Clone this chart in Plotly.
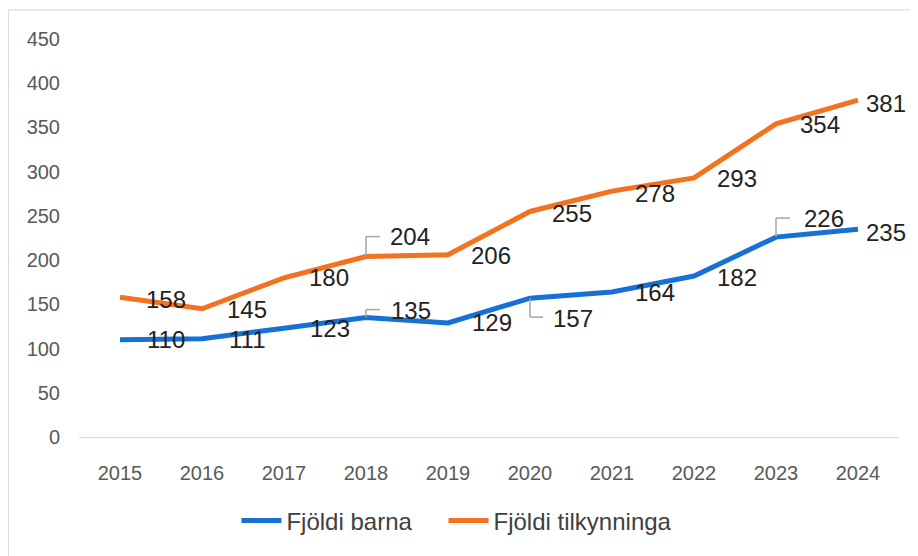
import plotly.graph_objects as go

years = [2015, 2016, 2017, 2018, 2019, 2020, 2021, 2022, 2023, 2024]
barna = [110, 111, 123, 135, 129, 157, 164, 182, 226, 235]
tilkynningar = [158, 145, 180, 204, 206, 255, 278, 293, 354, 381]
y_ticks = [0, 50, 100, 150, 200, 250, 300, 350, 400, 450]
names = ["Fjöldi barna", "Fjöldi tilkynninga"]

BLUE = "#1670D6"
ORANGE = "#F3721F"
FONT = "Liberation Sans"

# label offsets in pixels (dx right, dy up)
barna_off = [(46, 0), (45, -1), (46, 0), (45, 7), (44, 0), (43, -20), (43, -1), (43, -1), (48, 19), (28, -3)]
tilk_off = [(46, -2), (45, -1), (45, 0), (44, 20), (43, -1), (42, -2), (43, -2), (43, -1), (44, -1), (28, -3)]

fig = go.Figure()
fig.add_trace(go.Scatter(x=years, y=barna, mode="lines", name=names[0] + "&nbsp;" * 4,
                         line=dict(color=BLUE, width=5)))
fig.add_trace(go.Scatter(x=years, y=tilkynningar, mode="lines", name=names[1],
                         line=dict(color=ORANGE, width=5)))

annotations = []
for series, offs in ((barna, barna_off), (tilkynningar, tilk_off)):
    for x, v, (dx, dy) in zip(years, series, offs):
        annotations.append(dict(x=x, y=v, text=str(v), showarrow=False,
                                xshift=dx, yshift=dy,
                                font=dict(family=FONT, size=24, color="#222222")))

shapes = []
LEADER = dict(color="#A6A6A6", width=1.5)
# leader lines: (year, value, vertical pixel length, horizontal pixel length)
leaders = [(2018, 204, 20, 14), (2018, 135, 8, 14), (2020, 157, -19, 13), (2023, 226, 19, 14)]
for x, v, vl, hl in leaders:
    shapes.append(dict(type="line", xref="x", yref="y", xsizemode="pixel", ysizemode="pixel",
                       xanchor=x, yanchor=v, x0=0, x1=0, y0=0, y1=vl, line=LEADER))
    shapes.append(dict(type="line", xref="x", yref="y", xsizemode="pixel", ysizemode="pixel",
                       xanchor=x, yanchor=v, x0=0, x1=hl, y0=vl, y1=vl, line=LEADER))

# outer chart border
shapes.append(dict(type="rect", xref="paper", yref="paper", x0=-0.0860, x1=1.05, y0=-0.35, y1=1.0729,
                   line=dict(color="#D9D9D9", width=1), layer="below"))

fig.update_layout(
    width=910, height=548,
    margin=dict(l=71, r=19, t=31, b=119),
    paper_bgcolor="white", plot_bgcolor="white",
    showlegend=True,
    legend=dict(orientation="h", x=0.192, xanchor="left", y=-0.211, yanchor="middle",
                font=dict(family=FONT, size=24, color="#404040"), itemwidth=40,
                traceorder="normal"),
    annotations=annotations,
    shapes=shapes,
    xaxis=dict(range=[2014.5, 2024.5], tickmode="array", tickvals=years,
               ticktext=[str(y) for y in years], showgrid=False, zeroline=False,
               showline=True, linecolor="#D9D9D9", linewidth=1, ticks="",
               ticklabelstandoff=18,
               tickfont=dict(family=FONT, size=20, color="#595959")),
    yaxis=dict(range=[0, 450], tickmode="array", tickvals=y_ticks, showgrid=False,
               zeroline=False, showline=False, ticks="", ticklabelstandoff=18,
               tickfont=dict(family=FONT, size=20, color="#595959")),
)

fig.write_html("out.html")
